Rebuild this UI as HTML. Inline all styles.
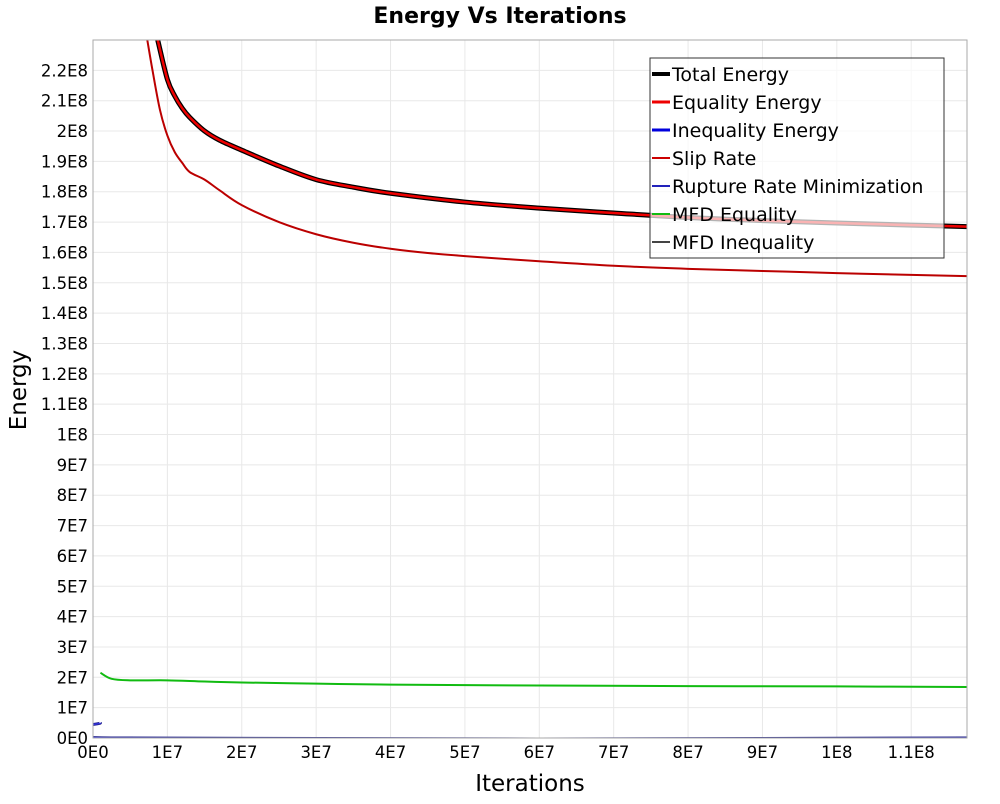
<!DOCTYPE html>
<html><head><meta charset="utf-8"><style>
body{margin:0;background:#fff;font-family:"DejaVu Sans","Liberation Sans",sans-serif}
</style></head><body>
<svg width="1000" height="800" xmlns="http://www.w3.org/2000/svg" font-family="DejaVu Sans, Liberation Sans, sans-serif">
<text x="500" y="23" text-anchor="middle" font-size="22" font-weight="bold">Energy Vs Iterations</text>
<g id="grid"></g>
<g id="series"></g>
<rect x="93" y="40" width="874" height="698" fill="none" stroke="#aaa"/>
<g id="ticks" font-size="16.5"></g>
<text x="530" y="791" text-anchor="middle" font-size="23">Iterations</text>
<text transform="translate(26,390) rotate(-90)" text-anchor="middle" font-size="23">Energy</text>
<g id="legend"></g>
</svg>
<script>
const xTicks=[0,1e7,2e7,3e7,4e7,5e7,6e7,7e7,8e7,9e7,1e8,1.1e8];
const xTickLabels=["0E0","1E7","2E7","3E7","4E7","5E7","6E7","7E7","8E7","9E7","1E8","1.1E8"];
const yTickLabels=["0E0","1E7","2E7","3E7","4E7","5E7","6E7","7E7","8E7","9E7","1E8","1.1E8","1.2E8","1.3E8","1.4E8","1.5E8","1.6E8","1.7E8","1.8E8","1.9E8","2E8","2.1E8","2.2E8"];
const totalX=[0.87e7,1.0e7,1.1e7,1.2e7,1.3e7,1.5e7,1.7e7,2e7,2.5e7,3e7,3.5e7,4e7,5e7,6e7,7e7,8e7,9e7,1e8,1.1e8,1.175e8];
const totalY=[2.3e8,2.17e8,2.115e8,2.075e8,2.045e8,2.0e8,1.97e8,1.937e8,1.885e8,1.84e8,1.815e8,1.795e8,1.766e8,1.746e8,1.73e8,1.715e8,1.705e8,1.697e8,1.69e8,1.685e8];
const slipX=[0.73e7,0.8e7,0.9e7,1e7,1.1e7,1.2e7,1.3e7,1.5e7,1.7e7,2e7,2.5e7,3e7,3.5e7,4e7,4.5e7,5e7,6e7,7e7,8e7,9e7,1e8,1.1e8,1.175e8];
const slipY=[2.3e8,2.2e8,2.07e8,1.985e8,1.93e8,1.895e8,1.865e8,1.84e8,1.805e8,1.756e8,1.7e8,1.66e8,1.632e8,1.612e8,1.598e8,1.588e8,1.571e8,1.556e8,1.546e8,1.539e8,1.532e8,1.526e8,1.522e8];
const mfdX=[0.1e7,0.25e7,0.5e7,1e7,1.5e7,2e7,3e7,4e7,6e7,8e7,1e8,1.175e8];
const mfdY=[2.15e7,1.95e7,1.9e7,1.9e7,1.86e7,1.83e7,1.79e7,1.76e7,1.73e7,1.71e7,1.7e7,1.68e7];
const ineqX=[0.1e7,0.25e7,1.175e8];
const ineqY=[5e6,0,0];
const NS="http://www.w3.org/2000/svg";
const X0=93,X1=967,Y0=738,Y1=40,XMAX=1.175e8,YMAX=2.3e8;
const sx=v=>X0+v/XMAX*(X1-X0), sy=v=>Y0-v/YMAX*(Y0-Y1);
function mk(tag,attrs,parent){const e=document.createElementNS(NS,tag);for(const k in attrs)e.setAttribute(k,attrs[k]);parent.appendChild(e);return e;}
const grid=document.getElementById('grid'),ticks=document.getElementById('ticks'),series=document.getElementById('series');
xTicks.forEach((v,i)=>{const l=mk('line',{x1:sx(v),x2:sx(v),y1:Y1,y2:Y0,stroke:'#e8e8e8'},grid);

const t=mk('text',{x:sx(v),y:Y0+20,'text-anchor':'middle'},ticks);t.textContent=xTickLabels[i];
});
yTickLabels.forEach((s,i)=>{const v=i*1e7;const l=mk('line',{x1:X0,x2:X1,y1:sy(v),y2:sy(v),stroke:'#e8e8e8'},grid);

const t=mk('text',{x:X0-5,y:sy(v)+6,'text-anchor':'end'},ticks);t.textContent=s;
});
const clip=mk('clipPath',{id:'pc'},mk('defs',{},series));mk('rect',{x:X0,y:Y1,width:X1-X0,height:Y0-Y1},clip);
function smoothPath(xs,ys){const P=xs.map((x,i)=>[sx(x),sy(ys[i])]);let d='M'+P[0][0]+','+P[0][1];
for(let i=0;i<P.length-1;i++){const p0=P[Math.max(0,i-1)],p1=P[i],p2=P[i+1],p3=P[Math.min(P.length-1,i+2)];
const c1=[p1[0]+(p2[0]-p0[0])/6,p1[1]+(p2[1]-p0[1])/6],c2=[p2[0]-(p3[0]-p1[0])/6,p2[1]-(p3[1]-p1[1])/6];
d+=' C'+c1[0]+','+c1[1]+' '+c2[0]+','+c2[1]+' '+p2[0]+','+p2[1];}return d;}
function line(xs,ys,color,w,name){const p=mk('path',{d:smoothPath(xs,ys),fill:'none',stroke:color,'stroke-width':w,'clip-path':'url(#pc)','stroke-linejoin':'round'},series);
}
line(ineqX,ineqY,'#222288',3,'inequality-energy-line');
line(ineqX,ineqY,'#3333dd',1.5,'rupture-rate-line');
line(mfdX,mfdY,'#11bb11',2,'mfd-equality-line');
line(slipX,slipY,'#bb0000',2,'slip-rate-line');
line(totalX,totalY,'#000',5,'total-energy-line');
line(totalX,totalY,'#ee0000',2.5,'equality-energy-line');
const leg=document.getElementById('legend');
mk('rect',{x:650,y:58,width:294,height:200,fill:'rgba(255,255,255,0.7)',stroke:'#333'},leg);
const legNames=["Total Energy","Equality Energy","Inequality Energy","Slip Rate","Rupture Rate Minimization","MFD Equality","MFD Inequality"];
const legColors=["#000","#ee0000","#0000dd","#cc0000","#2222bb","#11bb11","#444"];
const legW=[4,3,3,2,2,2,2];
legNames.forEach((n,i)=>{const y=74+i*28;const g=mk('g',{},leg);

mk('line',{x1:652,x2:670,y1:y,y2:y,stroke:legColors[i],'stroke-width':legW[i]},g);
const t=mk('text',{x:672,y:y+7,'font-size':19,textLength:null},g);t.removeAttribute('textLength');t.textContent=n;});
</script>
</body></html>
